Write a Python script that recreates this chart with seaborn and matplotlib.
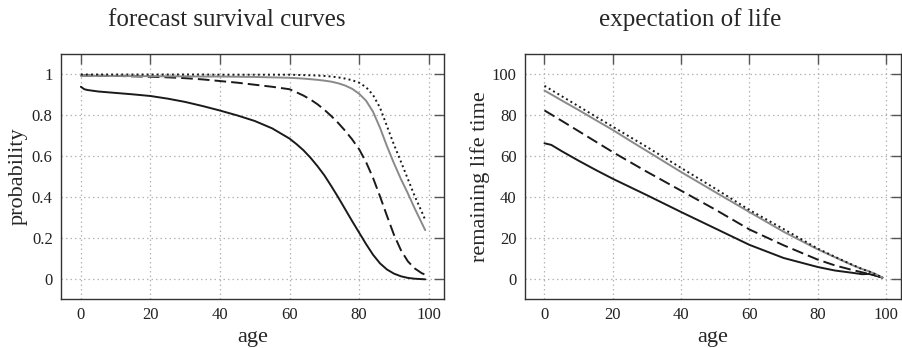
import numpy as np
import pandas as pd
import seaborn as sns
import matplotlib
matplotlib.use("Agg")
import matplotlib.pyplot as plt

# ages for the survival panel
ages_surv = [0, 1, 2, 5, 10, 15, 20, 25, 30, 35, 40, 45, 50, 55, 60, 62, 64, 66, 68, 70,
             72, 74, 76, 78, 80, 82, 84, 86, 88, 90, 92, 94, 96, 98, 99]

surv_solid = [0.94, 0.928, 0.924, 0.917, 0.91, 0.903, 0.895, 0.882, 0.866, 0.846, 0.824, 0.8,
              0.773, 0.737, 0.687, 0.66, 0.63, 0.594, 0.553, 0.508, 0.455, 0.4, 0.342, 0.284,
              0.228, 0.172, 0.12, 0.078, 0.048, 0.028, 0.015, 0.007, 0.003, 0.001, 0.0]
surv_dashed = [0.995, 0.995, 0.995, 0.994, 0.993, 0.991, 0.989, 0.986, 0.982, 0.976, 0.968,
               0.96, 0.95, 0.94, 0.928, 0.913, 0.897, 0.878, 0.855, 0.828, 0.797, 0.763,
               0.725, 0.683, 0.635, 0.572, 0.495, 0.405, 0.31, 0.218, 0.143, 0.088, 0.053, 0.03, 0.023]
surv_gray = [0.993, 0.993, 0.993, 0.993, 0.993, 0.992, 0.992, 0.991, 0.991, 0.99, 0.99, 0.989,
             0.988, 0.986, 0.984, 0.982, 0.98, 0.977, 0.974, 0.97, 0.965, 0.957, 0.946, 0.93,
             0.906, 0.872, 0.818, 0.74, 0.65, 0.567, 0.49, 0.42, 0.345, 0.275, 0.24]
surv_dotted = [1.0, 1.0, 1.0, 1.0, 1.0, 1.0, 1.0, 1.0, 1.0, 1.0, 0.999, 0.999, 0.999, 0.999,
               0.999, 0.998, 0.997, 0.996, 0.995, 0.993, 0.99, 0.986, 0.98, 0.972, 0.96,
               0.938, 0.9, 0.838, 0.748, 0.658, 0.575, 0.49, 0.405, 0.33, 0.29]

# ages for the life expectancy panel
ages_life = [0, 2, 5, 10, 15, 20, 25, 30, 40, 50, 60, 70, 80, 85, 90, 93, 95, 97, 99]

life_solid = [66.3, 65.5, 62.5, 57.8, 53.3, 49.0, 45.0, 41.0, 32.8, 24.8, 16.8, 10.4, 6.0,
              4.3, 3.2, 2.5, 2.6, 1.8, 0.8]
life_dashed = [82.3, 80.3, 77.3, 72.2, 67.1, 62.0, 57.2, 52.4, 43.2, 34.0, 24.3, 16.6, 9.6,
               6.8, 4.6, 3.4, 2.6, 1.8, 0.8]
life_gray = [92.0, 90.1, 87.2, 82.5, 77.6, 72.8, 67.6, 62.5, 52.3, 42.5, 32.8, 23.2, 14.6,
             10.8, 7.0, 5.0, 3.9, 2.5, 0.9]
life_dotted = [94.3, 92.3, 89.3, 84.3, 79.3, 74.4, 69.4, 64.5, 54.3, 44.2, 33.8, 24.5, 15.0,
               11.0, 7.2, 5.0, 3.8, 2.4, 0.8]

styles = [("solid", "#1a1a1a", "-"),
          ("dashed", "#1a1a1a", (0, (6, 2.6))),
          ("gray", "#8a8a8a", "-"),
          ("dotted", "#1a1a1a", (0, (1, 1.6)))]

surv_df = pd.DataFrame({"age": ages_surv, "solid": surv_solid, "dashed": surv_dashed,
                        "gray": surv_gray, "dotted": surv_dotted})
life_df = pd.DataFrame({"age": ages_life, "solid": life_solid, "dashed": life_dashed,
                        "gray": life_gray, "dotted": life_dotted})

sns.set_style("white")
plt.rcParams["font.family"] = ["Liberation Serif", "DejaVu Serif"]

fig = plt.figure(figsize=(9.03, 3.48), dpi=100)
ax1 = fig.add_axes([0.0676, 0.1408, 0.4241, 0.704])
ax2 = fig.add_axes([0.5814, 0.1408, 0.4164, 0.704])

for ax, df in [(ax1, surv_df), (ax2, life_df)]:
    for name, col, ls in styles:
        sns.lineplot(data=df, x="age", y=name, ax=ax, color=col, linestyle=ls,
                     linewidth=1.4, legend=False)

ax1.set_xlim(-5.7, 104.4)
ax1.set_ylim(-0.096, 1.10)
ax1.set_yticks([0, 0.2, 0.4, 0.6, 0.8, 1])
ax1.set_yticklabels(["0", "0.2", "0.4", "0.6", "0.8", "1"])
ax1.set_ylabel("probability", fontsize=16)
ax1.yaxis.set_label_coords(-0.088, 0.5)

ax2.set_xlim(-5.7, 104.4)
ax2.set_ylim(-9.6, 109.8)
ax2.set_yticks([0, 20, 40, 60, 80, 100])
ax2.set_ylabel("remaining life time", fontsize=16)
ax2.yaxis.set_label_coords(-0.094, 0.5)

for ax in (ax1, ax2):
    ax.set_xticks([0, 20, 40, 60, 80, 100])
    ax.set_xlabel("age", fontsize=16, labelpad=3)
    ax.grid(True, color="#b5b5b5", linestyle=(0, (1.2, 2.4)), linewidth=0.9)
    ax.tick_params(direction="in", length=7, width=1.0, color="#555555",
                   top=True, right=True, labelsize=12, labelcolor="#222222", pad=6)
    for sp in ax.spines.values():
        sp.set_color("#333333")
        sp.set_linewidth(1.0)

fig.text(0.2508, 0.925, "forecast survival curves", ha="center", fontsize=18)
fig.text(0.764, 0.925, "expectation of life", ha="center", fontsize=18)

fig.savefig("out.png", dpi=100)
